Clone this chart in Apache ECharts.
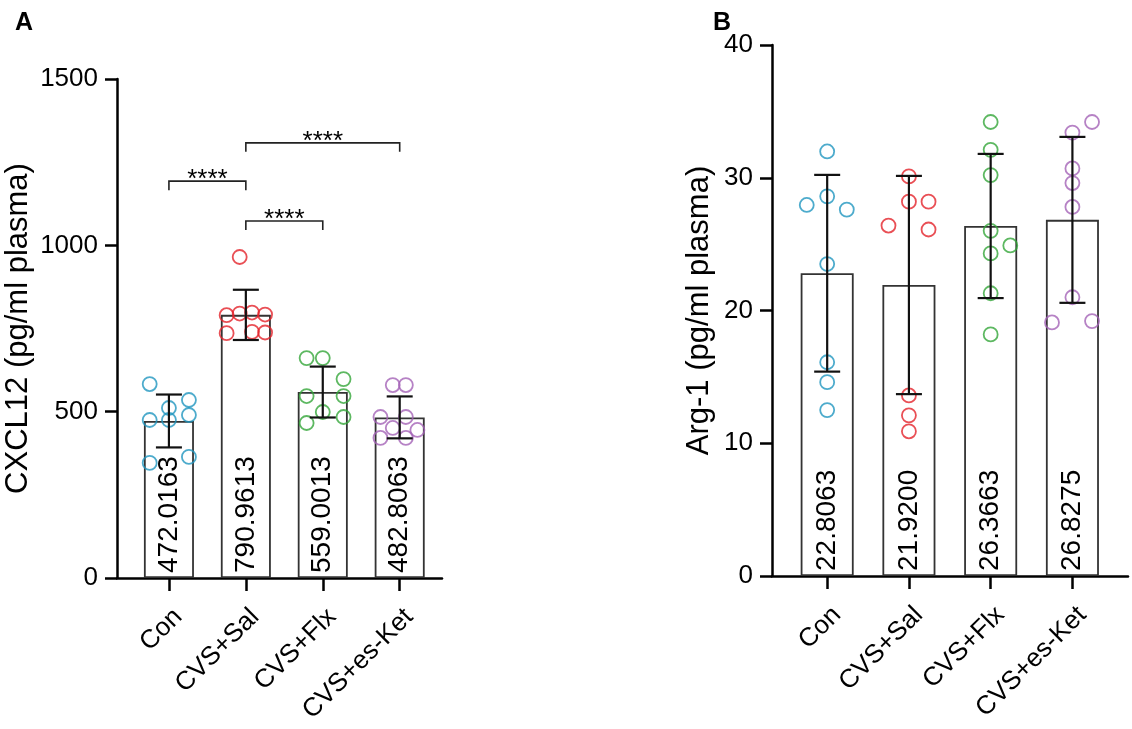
<!DOCTYPE html>
<html>
<head>
<meta charset="utf-8">
<script src="https://cdn.jsdelivr.net/npm/echarts@6/dist/echarts.min.js"></script>
<style>
  html, body { margin: 0; padding: 0; background: #fff; }
  #chart { width: 1132px; height: 729px; }
</style>
</head>
<body>
<div id="chart"></div>
<script>
const categories = ['Con', 'CVS+Sal', 'CVS+Flx', 'CVS+es-Ket']
const groupColors = ['#2196bf', '#e4232b', '#34a63a', '#a463b6']

// panel A: CXCL12
const cxclMean = [472.0163, 790.9613, 559.0013, 482.8063]
const cxclSd = [79.5, 75.5, 76.5, 63]
const cxclPoints = [
  [583, 535, 511, 490, 475, 475, 346, 364],
  [965, 790, 795, 798, 792, 736, 740, 738],
  [661, 661, 598, 547, 547, 499, 466, 484],
  [580, 580, 484, 484, 451, 445, 421, 421],
]
const cxclJitter = [
  [-0.25, 0.26, 0, 0.26, -0.25, 0, -0.25, 0.26],
  [-0.08, -0.25, -0.08, 0.08, 0.25, -0.25, 0.08, 0.25],
  [-0.21, 0, 0.27, -0.21, 0.27, 0, -0.21, 0.27],
  [-0.09, 0.08, -0.25, 0.08, -0.09, 0.23, -0.25, 0.08],
]
// [from, to, height, text]
const cxclBrackets = [
  [0, 1, 1193, '****'],
  [1, 2, 1073, '****'],
  [1, 3, 1308, '****'],
]

// panel B: Arg-1
const argMean = [22.8063, 21.9200, 26.3663, 26.8275]
const argSd = [7.41, 8.22, 5.43, 6.25]
const argPoints = [
  [31.98, 28.6, 27.95, 27.6, 23.5, 16.1, 14.6, 12.5],
  [30.1, 28.2, 28.2, 26.4, 26.1, 13.6, 12.1, 10.9],
  [34.2, 32.1, 30.2, 26.0, 24.9, 24.3, 21.3, 18.2],
  [34.2, 33.4, 30.7, 29.6, 27.8, 21.0, 19.1, 19.2],
]
const argJitter = [
  [0, 0, -0.25, 0.24, 0, 0, 0, 0],
  [0, 0, 0.24, -0.25, 0.24, 0, 0, 0],
  [0, 0, 0, 0, 0.24, 0, 0, 0],
  [0.24, 0, 0, 0, 0, 0, -0.25, 0.24],
]

const FONT = 'Arial, "Liberation Sans", sans-serif'
const tickVals = [0, 1, 2, 3]

// labels sit a little right of their ticks, as in the original
const makeXAxis = (gridIndex, max, shift) => ({
  gridIndex,
  type: 'value',
  min: -0.675,
  max,
  splitLine: { show: false },
  axisLine: { show: true, onZero: false, lineStyle: { color: '#000', width: 2.5 } },
  axisTick: { show: true, customValues: tickVals, length: 13, lineStyle: { color: '#000', width: 2.5 } },
  axisLabel: {
    customValues: tickVals.map((v) => v + shift),
    formatter: (v) => categories[Math.round(v)],
    rotate: 45,
    margin: 35,
    fontSize: 26,
    color: '#000',
    fontFamily: FONT,
  },
})

const makeYAxis = (gridIndex, max, interval, name, nameGap) => ({
  gridIndex,
  type: 'value',
  min: 0,
  max,
  interval,
  name,
  nameLocation: 'middle',
  nameGap,
  nameTextStyle: { fontSize: 31, color: '#000', fontFamily: FONT },
  splitLine: { show: false },
  axisLine: { show: true, onZero: false, lineStyle: { color: '#000', width: 2.5 } },
  axisTick: { show: true, length: 12, lineStyle: { color: '#000', width: 2.5 } },
  axisLabel: { fontSize: 26, color: '#000', margin: 19, fontFamily: FONT, formatter: (v) => String(v) },
})

const barSeries = (idx, means, width) => ({
  type: 'bar',
  xAxisIndex: idx,
  yAxisIndex: idx,
  barWidth: width,
  data: means.map((m, i) => [i, m]),
  itemStyle: { color: '#fff', borderColor: '#333', borderWidth: 1.8 },
  label: {
    show: true,
    position: 'insideBottom',
    rotate: 90,
    align: 'left',
    verticalAlign: 'middle',
    distance: 5,
    fontSize: 28,
    color: '#000',
    fontFamily: FONT,
    formatter: (p) => p.value[1].toFixed(4),
  },
  z: 1,
})

const dotSeries = (idx, points, jitter) => ({
  type: 'scatter',
  xAxisIndex: idx,
  yAxisIndex: idx,
  symbol: 'circle',
  symbolSize: 14,
  data: points.flatMap((vals, g) => vals.map((v, k) => ({
    value: [g + jitter[g][k], v],
    itemStyle: { color: 'rgba(255,255,255,0)', borderColor: groupColors[g], borderWidth: 1.8 },
  }))),
  z: 3,
})

const errorSeries = (idx, means, sds) => ({
  type: 'custom',
  xAxisIndex: idx,
  yAxisIndex: idx,
  data: means.map((m, i) => [i, m, sds[i]]),
  renderItem: (params, api) => {
    const x = api.value(0)
    const m = api.value(1)
    const s = api.value(2)
    const top = api.coord([x, m + s])
    const bot = api.coord([x, m - s])
    const half = 13
    const style = { stroke: '#111', lineWidth: 2.2 }
    return {
      type: 'group',
      children: [
        { type: 'line', shape: { x1: top[0], y1: top[1], x2: bot[0], y2: bot[1] }, style },
        { type: 'line', shape: { x1: top[0] - half, y1: top[1], x2: top[0] + half, y2: top[1] }, style },
        { type: 'line', shape: { x1: bot[0] - half, y1: bot[1], x2: bot[0] + half, y2: bot[1] }, style },
      ],
    }
  },
  z: 4,
})

const bracketSeries = (idx, brackets) => ({
  type: 'custom',
  xAxisIndex: idx,
  yAxisIndex: idx,
  clip: false,
  data: brackets.map((b) => [b[0], b[1], b[2]]),
  renderItem: (params, api) => {
    const a = api.coord([api.value(0), api.value(2)])
    const b = api.coord([api.value(1), api.value(2)])
    const drop = 9
    return {
      type: 'group',
      children: [
        {
          type: 'polyline',
          shape: { points: [[a[0], a[1] + drop], a, b, [b[0], b[1] + drop]] },
          style: { stroke: '#222', lineWidth: 1.6, fill: null },
        },
        {
          type: 'text',
          style: {
            x: (a[0] + b[0]) / 2,
            y: a[1] - 1,
            text: brackets[params.dataIndex][3],
            align: 'center',
            verticalAlign: 'middle',
            fontSize: 26,
            fill: '#000',
            fontFamily: FONT,
          },
        },
      ],
    }
  },
  z: 5,
})

const chart = echarts.init(document.getElementById('chart'))
chart.setOption({
  animation: false,
  backgroundColor: '#fff',
  title: [
    { text: 'A', left: 10, top: 6, textStyle: { fontSize: 25, fontWeight: 'bold', color: '#000', fontFamily: FONT } },
    { text: 'B', left: 708, top: 6, textStyle: { fontSize: 25, fontWeight: 'bold', color: '#000', fontFamily: FONT } },
  ],
  grid: [
    { left: 117, width: 325, top: 79, height: 499 },
    { left: 772, width: 356, top: 45, height: 531 },
  ],
  xAxis: [makeXAxis(0, 3.55, 0.12), makeXAxis(1, 3.68, 0.12)],
  yAxis: [
    makeYAxis(0, 1500, 500, 'CXCL12 (pg/ml plasma)', 83),
    makeYAxis(1, 40, 10, 'Arg-1 (pg/ml plasma)', 57),
  ],
  series: [
    barSeries(0, cxclMean, 50),
    errorSeries(0, cxclMean, cxclSd),
    dotSeries(0, cxclPoints, cxclJitter),
    bracketSeries(0, cxclBrackets),
    barSeries(1, argMean, 53),
    errorSeries(1, argMean, argSd),
    dotSeries(1, argPoints, argJitter),
  ],
})
</script>
</body>
</html>
